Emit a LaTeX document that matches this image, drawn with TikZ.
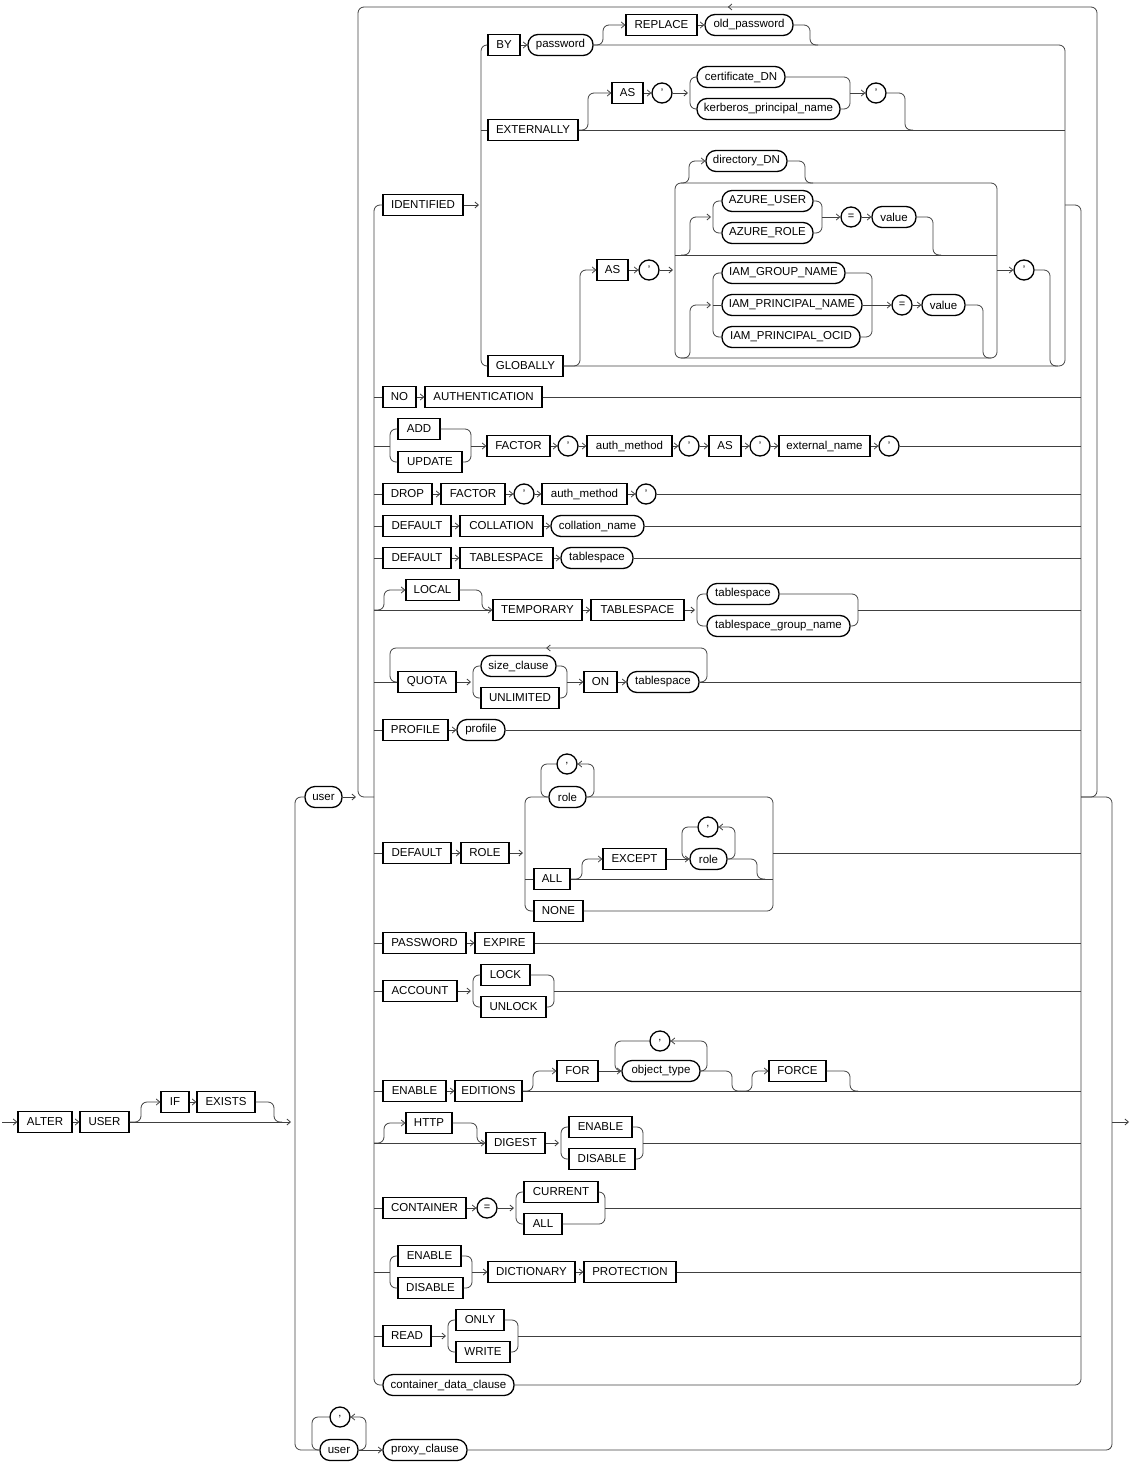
\documentclass[tikz,border=0pt]{standalone}
\usepackage{fontspec}
\setmainfont{Liberation Sans}
\usetikzlibrary{arrows.meta}
\usetikzlibrary{decorations,decorations.markings}
\newcommand\railfont{\fontsize{11.5}{13}\selectfont}
\newcommand\symfont{\fontsize{11}{12}\selectfont}

\begin{document}
\begin{tikzpicture}[x=1pt,y=-1pt,
    kw/.style={draw=black, line width=1.3pt, rectangle, minimum height=21, inner xsep=2pt, inner ysep=0pt, font=\railfont},
    nt/.style={kw, rounded corners=10pt},
    sym/.style={draw=black, line width=1.3pt, circle, minimum size=20, inner sep=0pt, font=\symfont},
    rail/.style={line width=0.8pt, draw=black!75, rounded corners=6pt},
    arr/.style={rail, -{Straight Barb[length=3.5pt,width=6pt]}},
    loopmark/.style={postaction={decorate, decoration={markings,
      mark=at position #1 with {\arrow[line width=0.8pt]{Straight Barb[length=3.5pt,width=6pt]}}}}}]
      %\draw[help lines] (0,0) grid[step=50] (1131,1463); % Only for Development
      \useasboundingbox (0,0) rectangle (1131,1463);

      \coordinate (start) at (2,1122);
      \coordinate (lb) at (374,0);
      \coordinate (rb) at (1081,0);

      % ALTER USER [IF EXISTS]
      \node[kw, minimum width=54] (alter) at (45,1122) {ALTER};
      \node[kw, minimum width=49] (usr) at (104.5,1122) {USER};
      \node[kw, minimum width=28] (if) at (175,1102) {IF};
      \node[kw, minimum width=58] (exists) at (226,1102) {EXISTS};
      \draw[arr] (start) -- (alter);
      \draw[arr] (alter) -- (usr);
      \draw[arr] (usr.east) -- (291,1122);
      \draw[arr] (usr.east) -- (141,1122) |- (if.west);
      \draw[arr] (if) -- (exists);
      \draw[rail] (exists.east) -| (274,1122) -- (282,1122);

      % user / user list
      \node[nt, minimum width=37] (user1) at (323.5,797) {user};
      \node[nt, minimum width=38] (user2) at (339,1450) {user};
      \node[sym] (comma4) at (340,1417) {,};
      \node[nt, minimum width=84] (proxy) at (425,1450) {proxy\_clause};
      \draw[rail] (user1.west) -| (295,1450) -- (user2.west);
      \draw[arr] (user1.east) -- (356,797);
      \draw[rail, loopmark=1170pt] (1081,797) -| (1097,7) -| (358,797) -- (user1.east -| lb);
      \draw[arr] (user2.east) -- (proxy.west);
      \draw[arr] (user2.east) -| (366,1417) -- (comma4.east);
      \draw[rail] (comma4.west) -| (312,1450) -- (user2.west);
      \draw[rail] (1081,797) -| (1112,1450) -- (proxy.east);
      \draw[arr] (1112,1122) -- (1129,1122);

      % clause buses
      \node[kw, minimum width=80] (ident) at (423,205) {IDENTIFIED};
      \node[nt, minimum width=131] (cdc) at (448.5,1385) {container\_data\_clause};
      \draw[rail] (ident.west) -| (374,1385) -- (cdc.west);
      \draw[rail] (cdc.east) -| (1081,205) -- (1065,205);

      % IDENTIFIED BY
      \node[kw, minimum width=32] (by) at (504,45) {BY};
      \node[nt, minimum width=65] (pw) at (560.5,45) {password};
      \node[kw, minimum width=71] (repl) at (661.5,25) {REPLACE};
      \node[nt, minimum width=88] (oldpw) at (749,25) {old\_password};
      \draw[arr] (ident.east) -- (479,205);
      \draw[arr] (by) -- (pw);
      \draw[arr] (pw.east) -- (603,45) |- (repl.west);
      \draw[arr] (repl) -- (oldpw);
      \draw[rail] (oldpw.east) -| (810,45) -- (818,45);

      % IDENTIFIED EXTERNALLY
      \node[kw, minimum width=90] (ext) at (533,130) {EXTERNALLY};
      \node[kw, minimum width=31] (as1) at (627.5,93) {AS};
      \node[sym] (q1) at (662,93) {'};
      \node[nt, minimum width=88] (cert) at (741,77) {certificate\_DN};
      \node[nt, minimum width=143] (kerb) at (768.5,109) {kerberos\_principal\_name};
      \node[sym] (q2) at (876,93) {'};
      \draw[arr] (ext.east) -- (588,130) |- (as1.west);
      \draw[arr] (as1) -- (q1);
      \draw[arr] (q1.east) -- (688,93);
      \draw[rail] (cert.west) -| (690,109) -- (kerb.west);
      \draw[rail] (cert.east) -| (850,109) -- (kerb.east);
      \draw[arr] (850,93) -- (q2.west);
      \draw[rail] (q2.east) -| (905,130) -- (913,130);
      \draw[rail] (ext.east) -- (1065,130);

      % IDENTIFIED GLOBALLY
      \node[kw, minimum width=75] (glob) at (525.5,366) {GLOBALLY};
      \node[kw, minimum width=31] (as2) at (612.5,270) {AS};
      \node[sym] (q3) at (649,270) {'};
      \node[nt, minimum width=81] (dirdn) at (746.5,161) {directory\_DN};
      \node[nt, minimum width=91] (azu) at (767.5,201) {AZURE\_USER};
      \node[nt, minimum width=91] (azr) at (767.5,233) {AZURE\_ROLE};
      \node[sym] (eq1) at (851,217) {=};
      \node[nt, minimum width=44] (value1) at (894,217) {value};
      \node[nt, minimum width=123] (iamg) at (783.5,273) {IAM\_GROUP\_NAME};
      \node[nt, minimum width=140] (iamp) at (792,305) {IAM\_PRINCIPAL\_NAME};
      \node[nt, minimum width=138] (iamo) at (791,337) {IAM\_PRINCIPAL\_OCID};
      \node[sym] (eq2) at (902,305) {=};
      \node[nt, minimum width=43] (value2) at (943.5,305) {value};
      \node[sym] (q4) at (1024,270) {'};
      \draw[rail] (by.west) -| (481,366) -- (glob.west);
      \draw[rail] (481,130) -- (ext.west);
      \draw[rail] (glob.east) -| (1065,45) -- (pw.east);
      \draw[arr] (glob.east) -- (580,366) |- (as2.west);
      \draw[arr] (as2) -- (q3);
      \draw[arr] (q3.east) -- (673,270);
      \draw[rail] (675,183) rectangle (997,358);
      \draw[rail] (675,255) -- (997,255);
      \draw[arr] (681,183) -- (689,183) |- (dirdn.west);
      \draw[rail] (dirdn.east) -| (805,183) -- (813,183);
      \draw[arr] (681,255) -- (690,255) |- (711,217);
      \draw[rail] (azu.west) -| (713,233) -- (azr.west);
      \draw[rail] (azu.east) -| (822,233) -- (azr.east);
      \draw[arr] (822,217) -- (eq1.west);
      \draw[arr] (eq1) -- (value1);
      \draw[rail] (value1.east) -| (933,255) -- (941,255);
      \draw[arr] (681,358) -- (690,358) |- (711,305);
      \draw[rail] (iamg.west) -| (713,337) -- (iamo.west);
      \draw[rail] (713,305) -- (iamp.west);
      \draw[rail] (iamg.east) -| (872,337) -- (iamo.east);
      \draw[arr] (iamp.east) -- (eq2.west);
      \draw[arr] (eq2) -- (value2);
      \draw[rail] (value2.east) -| (983,358) -- (991,358);
      \draw[arr] (997,270) -- (q4.west);
      \draw[rail] (q4.east) -| (1050,366) -- (1058,366);

      % NO AUTHENTICATION
      \node[kw, minimum width=33] (no) at (399.5,397) {NO};
      \node[kw, minimum width=117] (authn) at (483.5,397) {AUTHENTICATION};
      \draw[rail] (no.west -| lb) -- (no.west);
      \draw[arr] (no) -- (authn);
      \draw[rail] (authn.east) -- (authn.east -| rb);

      % ADD | UPDATE FACTOR
      \node[kw, minimum width=42] (add) at (419,429) {ADD};
      \node[kw, minimum width=64] (upd) at (430,462) {UPDATE};
      \node[kw, minimum width=63] (fac1) at (518.5,446) {FACTOR};
      \node[sym] (q5) at (568,446) {'};
      \node[kw, minimum width=85] (am1) at (629.5,446) {auth\_method};
      \node[sym] (q6) at (689,446) {'};
      \node[kw, minimum width=32] (as3) at (725,446) {AS};
      \node[sym] (q7) at (760,446) {'};
      \node[kw, minimum width=91] (extn) at (824.5,446) {external\_name};
      \node[sym] (q8) at (889,446) {'};
      \draw[rail] (fac1.west -| lb) -- (390,446);
      \draw[rail] (add.west) -| (390,462) -- (upd.west);
      \draw[rail] (add.east) -| (471,462) -- (upd.east);
      \draw[arr] (471,446) -- (fac1.west);
      \draw[arr] (fac1) -- (q5);
      \draw[arr] (q5) -- (am1);
      \draw[arr] (am1) -- (q6);
      \draw[arr] (q6) -- (as3);
      \draw[arr] (as3) -- (q7);
      \draw[arr] (q7) -- (extn);
      \draw[arr] (extn) -- (q8);
      \draw[rail] (q8.east) -- (q8.east -| rb);

      % DROP FACTOR
      \node[kw, minimum width=49] (drop) at (407.5,494) {DROP};
      \node[kw, minimum width=64] (fac2) at (473,494) {FACTOR};
      \node[sym] (q9) at (524,494) {'};
      \node[kw, minimum width=85] (am2) at (584.5,494) {auth\_method};
      \node[sym] (q10) at (646,494) {'};
      \draw[rail] (drop.west -| lb) -- (drop.west);
      \draw[arr] (drop) -- (fac2);
      \draw[arr] (fac2) -- (q9);
      \draw[arr] (q9) -- (am2);
      \draw[arr] (am2) -- (q10);
      \draw[rail] (q10.east) -- (q10.east -| rb);

      % DEFAULT COLLATION
      \node[kw, minimum width=68] (def1) at (417,526) {DEFAULT};
      \node[kw, minimum width=83] (coll) at (501.5,526) {COLLATION};
      \node[nt, minimum width=93] (colln) at (597.5,526) {collation\_name};
      \draw[rail] (def1.west -| lb) -- (def1.west);
      \draw[arr] (def1) -- (coll);
      \draw[arr] (coll) -- (colln);
      \draw[rail] (colln.east) -- (colln.east -| rb);

      % DEFAULT TABLESPACE
      \node[kw, minimum width=68] (def2) at (417,558) {DEFAULT};
      \node[kw, minimum width=93] (tbs1) at (506.5,558) {TABLESPACE};
      \node[nt, minimum width=72] (ts1) at (597,558) {tablespace};
      \draw[rail] (def2.west -| lb) -- (def2.west);
      \draw[arr] (def2) -- (tbs1);
      \draw[arr] (tbs1) -- (ts1);
      \draw[rail] (ts1.east) -- (ts1.east -| rb);

      % [LOCAL] TEMPORARY TABLESPACE
      \node[kw, minimum width=53] (local) at (432.5,590) {LOCAL};
      \node[kw, minimum width=89] (temp) at (537.5,610) {TEMPORARY};
      \node[kw, minimum width=93] (tbs2) at (637.5,610) {TABLESPACE};
      \node[nt, minimum width=72] (ts2) at (743,594) {tablespace};
      \node[nt, minimum width=143] (tsg) at (778.5,626) {tablespace\_group\_name};
      \draw[arr] (temp.west -| lb) -- (temp.west);
      \draw[arr] (temp.west -| lb) -- (384,610) |- (local.west);
      \draw[rail] (local.east) -| (482,610) -- (490,610);
      \draw[arr] (temp) -- (tbs2);
      \draw[arr] (tbs2.east) -- (695,610);
      \draw[rail] (ts2.west) -| (697,626) -- (tsg.west);
      \draw[rail] (ts2.east) -| (858,626) -- (tsg.east);
      \draw[rail] (858,610) -- (1081,610);

      % QUOTA
      \node[kw, minimum width=58] (quota) at (427,682) {QUOTA};
      \node[nt, minimum width=75] (szc) at (518.5,666) {size\_clause};
      \node[kw, minimum width=78] (unl) at (520,698) {UNLIMITED};
      \node[kw, minimum width=33] (on) at (600.5,682) {ON};
      \node[nt, minimum width=72] (ts3) at (663,682) {tablespace};
      \draw[rail] (quota.west -| lb) -- (quota.west);
      \draw[arr] (quota.east) -- (471,682);
      \draw[rail] (szc.west) -| (473,698) -- (unl.west);
      \draw[rail] (szc.east) -| (567,698) -- (unl.east);
      \draw[arr] (567,682) -- (on.west);
      \draw[arr] (on) -- (ts3);
      \draw[rail] (ts3.east) -- (ts3.east -| rb);
      \draw[rail, loopmark=197pt] (ts3.east) -| (707,648) -| (390,682) -- (quota.west);

      % PROFILE
      \node[kw, minimum width=65] (profkw) at (415.5,730) {PROFILE};
      \node[nt, minimum width=48] (prof) at (481,730) {profile};
      \draw[rail] (profkw.west -| lb) -- (profkw.west);
      \draw[arr] (profkw) -- (prof);
      \draw[rail] (prof.east) -- (prof.east -| rb);

      % DEFAULT ROLE
      \node[kw, minimum width=68] (def3) at (417,853) {DEFAULT};
      \node[kw, minimum width=48] (role) at (485,853) {ROLE};
      \node[nt, minimum width=37] (roleA) at (567.5,797) {role};
      \node[sym] (comma1) at (567,764) {,};
      \node[kw, minimum width=36] (all1) at (552,879) {ALL};
      \node[kw, minimum width=63] (except) at (634.5,859) {EXCEPT};
      \node[nt, minimum width=37] (roleB) at (708.5,859) {role};
      \node[sym] (comma2) at (708,827) {,};
      \node[kw, minimum width=49] (none) at (558.5,911) {NONE};
      \draw[rail] (def3.west -| lb) -- (def3.west);
      \draw[arr] (def3) -- (role);
      \draw[arr] (role.east) -- (523,853);
      \draw[rail] (roleA.west) -| (525,911) -- (none.west);
      \draw[rail] (roleA.east) -| (773,911) -- (none.east);
      \draw[arr] (roleA.east) -| (594,764) -- (comma1.east);
      \draw[rail] (comma1.west) -| (541,797) -- (roleA.west);
      \draw[rail] (525,879) -- (all1.west);
      \draw[rail] (all1.east) -- (773,879);
      \draw[arr] (all1.east) -- (582,879) |- (except.west);
      \draw[arr] (except) -- (roleB);
      \draw[arr] (roleB.east) -| (735,827) -- (comma2.east);
      \draw[rail] (comma2.west) -| (682,859) -- (roleB.west);
      \draw[rail] (roleB.east) -| (757,879) -- (765,879);
      \draw[rail] (773,853) -- (1081,853);

      % PASSWORD EXPIRE
      \node[kw, minimum width=83] (pwd) at (424.5,943) {PASSWORD};
      \node[kw, minimum width=59] (expire) at (504.5,943) {EXPIRE};
      \draw[rail] (pwd.west -| lb) -- (pwd.west);
      \draw[arr] (pwd) -- (expire);
      \draw[rail] (expire.east) -- (expire.east -| rb);

      % ACCOUNT LOCK | UNLOCK
      \node[kw, minimum width=74] (account) at (420,991) {ACCOUNT};
      \node[kw, minimum width=49] (lock) at (505.5,975) {LOCK};
      \node[kw, minimum width=65] (unlock) at (513.5,1007) {UNLOCK};
      \draw[rail] (account.west -| lb) -- (account.west);
      \draw[arr] (account.east) -- (471,991);
      \draw[rail] (lock.west) -| (473,1007) -- (unlock.west);
      \draw[rail] (lock.east) -| (554,1007) -- (unlock.east);
      \draw[rail] (554,991) -- (1081,991);

      % ENABLE EDITIONS
      \node[kw, minimum width=63] (enab1) at (414.5,1091) {ENABLE};
      \node[kw, minimum width=67] (edit) at (488.5,1091) {EDITIONS};
      \node[kw, minimum width=41] (for) at (577.5,1071) {FOR};
      \node[nt, minimum width=78] (objt) at (661,1071) {object\_type};
      \node[sym] (comma3) at (660,1041) {,};
      \node[kw, minimum width=57] (force) at (797.5,1071) {FORCE};
      \draw[rail] (enab1.west -| lb) -- (enab1.west);
      \draw[arr] (enab1) -- (edit);
      \draw[rail] (edit.east) -- (edit.east -| rb);
      \draw[arr] (edit.east) -- (533,1091) |- (for.west);
      \draw[arr] (for) -- (objt);
      \draw[arr] (objt.east) -| (707,1041) -- (comma3.east);
      \draw[rail] (comma3.west) -| (615,1071) -- (objt.west);
      \draw[rail] (objt.east) -| (732,1091) -- (740,1091);
      \draw[arr] (740,1091) -- (752,1091) |- (force.west);
      \draw[rail] (force.east) -| (850,1091) -- (858,1091);

      % [HTTP] DIGEST
      \node[kw, minimum width=46] (http) at (429,1123) {HTTP};
      \node[kw, minimum width=59] (digest) at (515.5,1143) {DIGEST};
      \node[kw, minimum width=63] (enab2) at (600.5,1127) {ENABLE};
      \node[kw, minimum width=66] (disab1) at (602,1159) {DISABLE};
      \draw[arr] (digest.west -| lb) -- (digest.west);
      \draw[arr] (digest.west -| lb) -- (384,1143) |- (http.west);
      \draw[rail] (http.east) -| (477,1143) -- (483,1143);
      \draw[arr] (digest.east) -- (559,1143);
      \draw[rail] (enab2.west) -| (561,1159) -- (disab1.west);
      \draw[rail] (enab2.east) -| (643,1159) -- (disab1.east);
      \draw[rail] (643,1143) -- (1081,1143);

      % CONTAINER
      \node[kw, minimum width=83] (cont) at (424.5,1208) {CONTAINER};
      \node[sym] (eq3) at (487,1208) {=};
      \node[kw, minimum width=74] (cur) at (561,1192) {CURRENT};
      \node[kw, minimum width=38] (all2) at (543,1224) {ALL};
      \draw[rail] (cont.west -| lb) -- (cont.west);
      \draw[arr] (cont) -- (eq3);
      \draw[arr] (eq3.east) -- (514,1208);
      \draw[rail] (cur.west) -| (516,1224) -- (all2.west);
      \draw[rail] (cur.east) -| (605,1224) -- (all2.east);
      \draw[rail] (605,1208) -- (1081,1208);

      % ENABLE | DISABLE DICTIONARY PROTECTION
      \node[kw, minimum width=63] (enab3) at (429.5,1256) {ENABLE};
      \node[kw, minimum width=65] (disab2) at (430.5,1288) {DISABLE};
      \node[kw, minimum width=87] (dict) at (531.5,1272) {DICTIONARY};
      \node[kw, minimum width=92] (prot) at (630,1272) {PROTECTION};
      \draw[rail] (dict.west -| lb) -- (390,1272);
      \draw[rail] (enab3.west) -| (390,1288) -- (disab2.west);
      \draw[rail] (enab3.east) -| (472,1288) -- (disab2.east);
      \draw[arr] (472,1272) -- (dict.west);
      \draw[arr] (dict) -- (prot);
      \draw[rail] (prot.east) -- (prot.east -| rb);

      % READ ONLY | WRITE
      \node[kw, minimum width=48] (read) at (407,1336) {READ};
      \node[kw, minimum width=48] (only) at (480,1320) {ONLY};
      \node[kw, minimum width=54] (write) at (483,1352) {WRITE};
      \draw[rail] (read.west -| lb) -- (read.west);
      \draw[arr] (read.east) -- (446,1336);
      \draw[rail] (only.west) -| (448,1352) -- (write.west);
      \draw[rail] (only.east) -| (518,1352) -- (write.east);
      \draw[rail] (518,1336) -- (1081,1336);

    \end{tikzpicture}
\end{document}
